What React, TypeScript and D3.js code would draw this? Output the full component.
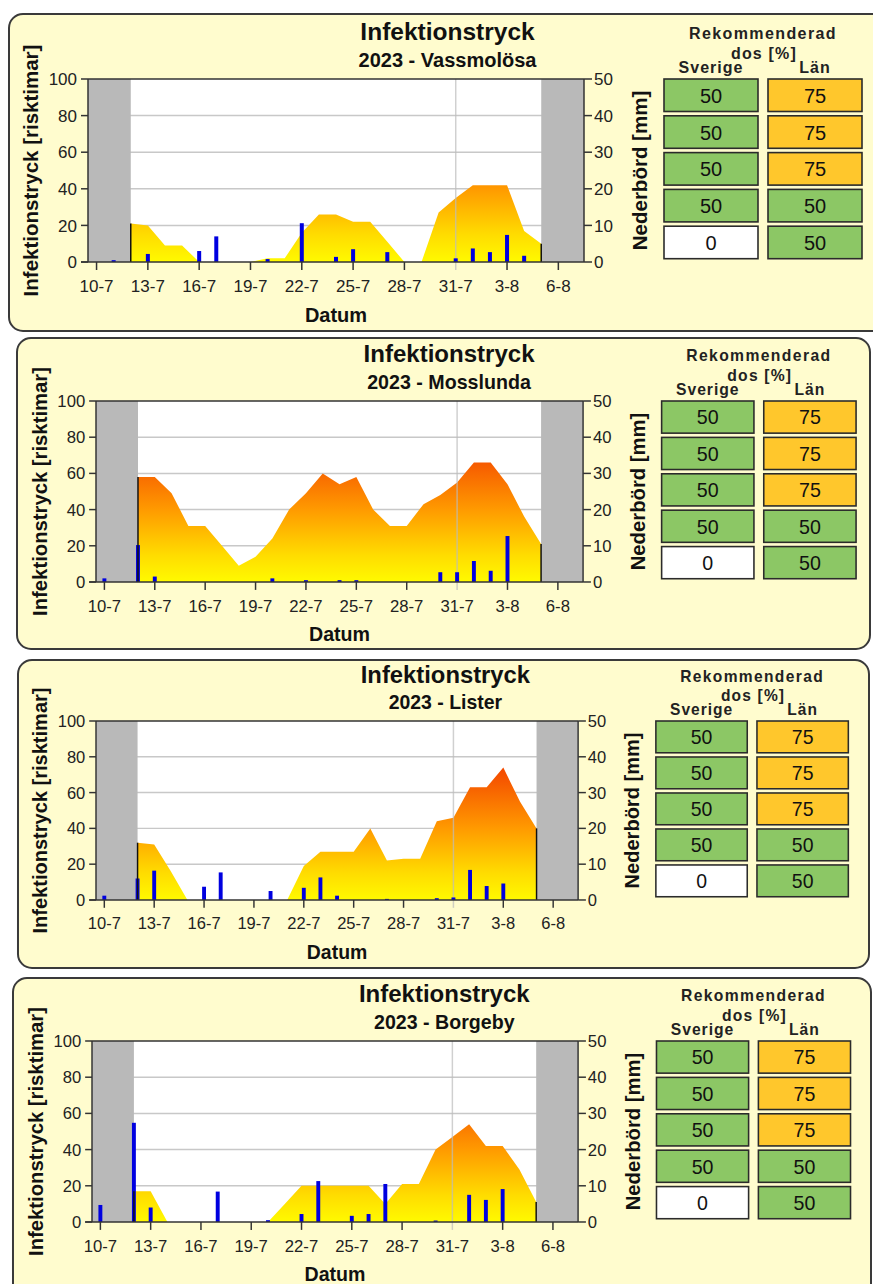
import React from 'react';
import * as d3 from 'd3';

// ---------- data ----------
const days = ['10-7','11-7','12-7','13-7','14-7','15-7','16-7','17-7','18-7','19-7','20-7','21-7','22-7','23-7','24-7','25-7','26-7','27-7','28-7','29-7','30-7','31-7','1-8','2-8','3-8','4-8','5-8','6-8','7-8'];
const tickLabels = ['10-7','13-7','16-7','19-7','22-7','25-7','28-7','31-7','3-8','6-8'];
const riskStartDay = '12-7';
const gridDay = '31-7';
const stations = ['Vassmolösa', 'Mosslunda', 'Lister', 'Borgeby'];
const year = '2023';

// Infektionstryck [risktimar], from 12-7 to 5-8
const vassmolosaRisk = [21,20,9,9,0,0,0,0,2,2,16,26,26,22,22,11,0,0,27,35,42,42,42,17,10];
const mosslundaRisk = [58,58,49,31,31,20,9,14,24,40,49,60,54,58,40,31,31,43,48,55,66,66,54,36,21];
const listerRisk = [32,31,16,0,0,0,0,0,0,0,19,27,27,27,40,22,23,23,44,46,63,63,74,55,40];
const borgebyRisk = [17,17,0,0,0,0,0,0,0,10,20,20,20,20,20,10,21,21,40,47,54,42,42,29,11];

// Nederbörd [mm], per day 10-7 .. 7-8
const vassmolosaRain = [0,0.5,0,2.2,0,0,3,7,0,0,0.8,0,10.6,0,1.4,3.5,0,2.7,0,0,0,1,3.7,2.7,7.4,1.7,0,0,0];
const mosslundaRain = [1,0,10.2,1.5,0,0,0,0,0,0,1,0,0.5,0,0.5,0.5,0,0,0,0,2.7,2.7,5.8,3.1,12.7,0,0,0,0];
const listerRain = [1.2,0,6,8.2,0,0,3.7,7.7,0,0,2.5,0,3.4,6.3,1.2,0,0,0.3,0,0,0.5,0.7,8.4,3.9,4.6,0,0,0,0];
const borgebyRain = [4.7,0,27.4,4,0,0,0,8.4,0,0,0.5,0,2.2,11.3,0,1.7,2.2,10.5,0,0,0.4,0,7.5,6.1,9.1,0,0,0,0];

const risks = [vassmolosaRisk, mosslundaRisk, listerRisk, borgebyRisk];
const rains = [vassmolosaRain, mosslundaRain, listerRain, borgebyRain];

// Rekommenderad dos [%]
const doseSverige = [50, 50, 50, 50, 0];
const doseLan = [75, 75, 75, 50, 50];

// ---------- layout ----------
const W = 496, H = 183;
const layouts = [
  { box: [9, 14, 880, 317], ox: 88, oy: 79, sx: 1, sy: 1 },
  { box: [17, 338, 853, 311], ox: 96, oy: 401, sx: 0.982, sy: 0.989 },
  { box: [18, 660, 851, 308], ox: 96, oy: 721, sx: 0.972, sy: 0.978 },
  { box: [13, 978, 858, 320], ox: 92, oy: 1041, sx: 0.98, sy: 0.989 },
];

const x = d3.scaleLinear().domain([-0.5, days.length - 0.5]).range([0, W]);
const y = d3.scaleLinear().domain([0, 100]).range([H, 0]);
const yR = d3.scaleLinear().domain([0, 50]).range([H, 0]);

const FONT = "'Liberation Sans', Arial, Helvetica, sans-serif";
const AX = '#333';

function doseColor(v: number) {
  if (v >= 75) return '#FFC72C';
  if (v >= 50) return '#8CC765';
  return '#FFFFFF';
}

function Panel({ idx }: { idx: number }) {
  const L = layouts[idx];
  const risk = risks[idx];
  const rain = rains[idx];
  const start = days.indexOf(riskStartDay);
  const pts = risk.map((v, k) => ({ i: start + k, v }));
  const first = pts[0];
  const last = pts[pts.length - 1];
  const area = d3.area<{ i: number; v: number }>()
    .x(d => x(d.i))
    .y0(H)
    .y1(d => y(d.v))
    .curve(d3.curveLinear);
  const gi = days.indexOf(gridDay);
  const yTicks = y.ticks(5);
  const yRTicks = yR.ticks(5);
  const barW = 4;
  const rowPitch = 36.8, rowH = 32.5, colW = 94;
  const colX = [576, 680];
  const [bx, by, bw, bh] = L.box;
  return (
    <g>
      <rect x={bx} y={by} width={bw} height={bh} rx={14} ry={14} fill="#FFFCCE" stroke="#3a3a3a" strokeWidth={2} />
      <g transform={`translate(${L.ox},${L.oy}) scale(${L.sx},${L.sy})`}>
        {/* titles */}
        <text x={359.5} y={-39} textAnchor="middle" fontSize={24.5} fontWeight="bold" fill="#111">Infektionstryck</text>
        <text x={359.5} y={-12} textAnchor="middle" fontSize={20} fontWeight="bold" fill="#111">{`${year} - ${stations[idx]}`}</text>
        {/* plot background */}
        <rect x={0} y={0} width={W} height={H} fill="#FFFFFF" />
        {yTicks.filter(t => t > 0 && t < 100).map(t => (
          <line key={'g' + t} x1={0} x2={W} y1={y(t)} y2={y(t)} stroke="#C8C8C8" strokeWidth={1.5} />
        ))}
        <path d={area(pts) || ''} fill="url(#riskGrad)" />
        <rect x={0} y={0} width={x(first.i)} height={H} fill="#B9B9B9" />
        <rect x={x(last.i)} y={0} width={W - x(last.i)} height={H} fill="#B9B9B9" />
        <line x1={x(gi)} x2={x(gi)} y1={0} y2={H + 8} stroke="#BDBDBD" strokeWidth={1.5} opacity={0.7} />
        {rain.map((r, i) => r > 0 ? (
          <rect key={'b' + i} x={x(i) - barW / 2} y={yR(r)} width={barW} height={H - yR(r)} fill="#0000E0" />
        ) : null)}
        <line x1={x(first.i)} x2={x(first.i)} y1={H} y2={y(first.v)} stroke="#111" strokeWidth={1.5} />
        <line x1={x(last.i)} x2={x(last.i)} y1={H} y2={y(last.v)} stroke="#111" strokeWidth={1.5} />
        {/* axes */}
        <line x1={0} x2={W} y1={0} y2={0} stroke={AX} strokeWidth={1.5} />
        <line x1={-7} x2={W} y1={H} y2={H} stroke={AX} strokeWidth={1.5} />
        <line x1={0} x2={0} y1={0} y2={H} stroke={AX} strokeWidth={1.5} />
        <line x1={W} x2={W} y1={0} y2={H} stroke={AX} strokeWidth={1.5} />
        {yTicks.map(t => (
          <g key={'yl' + t}>
            <line x1={-7} x2={0} y1={y(t)} y2={y(t)} stroke={AX} strokeWidth={1.5} />
            <text x={-11} y={y(t)} dy="0.36em" textAnchor="end" fontSize={17} fill="#222">{t}</text>
          </g>
        ))}
        {yRTicks.map(t => (
          <g key={'yr' + t}>
            <line x1={W} x2={W + 8} y1={yR(t)} y2={yR(t)} stroke={AX} strokeWidth={1.5} />
            <text x={W + 10} y={yR(t)} dy="0.36em" textAnchor="start" fontSize={17} fill="#222">{t}</text>
          </g>
        ))}
        {tickLabels.map(lbl => {
          const i = days.indexOf(lbl);
          return (
            <g key={'xt' + lbl}>
              {lbl !== gridDay && <line x1={x(i)} x2={x(i)} y1={H} y2={H + 8} stroke={AX} strokeWidth={1.5} />}
              <text x={x(i)} y={H + 30} textAnchor="middle" fontSize={17} fill="#222">{lbl}</text>
            </g>
          );
        })}
        <text x={W / 2} y={H + 60} textAnchor="middle" fontSize={20} fontWeight="bold" fill="#111">Datum</text>
        <text transform={`translate(-50,${H / 2}) rotate(-90)`} textAnchor="middle" fontSize={20.5} fontWeight="bold" fill="#111">Infektionstryck [risktimar]</text>
        <text transform={`translate(559,${H / 2}) rotate(-90)`} textAnchor="middle" fontSize={20.5} fontWeight="bold" fill="#111">Nederbörd [mm]</text>
        {/* dose table */}
        <text x={675} y={-40} textAnchor="middle" fontSize={16} fontWeight="bold" letterSpacing={1.4} fill="#222">Rekommenderad</text>
        <text x={676} y={-20} textAnchor="middle" fontSize={16} fontWeight="bold" letterSpacing={1.2} fill="#222">dos [%]</text>
        <text x={colX[0] + colW / 2} y={-6} textAnchor="middle" fontSize={16} fontWeight="bold" letterSpacing={1} fill="#222">Sverige</text>
        <text x={colX[1] + colW / 2} y={-6} textAnchor="middle" fontSize={16} fontWeight="bold" letterSpacing={1} fill="#222">Län</text>
        {[doseSverige, doseLan].map((col, c) => col.map((v, r) => (
          <g key={`d${c}-${r}`}>
            <rect x={colX[c]} y={r * rowPitch} width={colW} height={rowH} fill={doseColor(v)} stroke="#2b2b2b" strokeWidth={1.6} />
            <text x={colX[c] + colW / 2} y={r * rowPitch + rowH / 2 + 7.5} textAnchor="middle" fontSize={20} fill="#111">{v}</text>
          </g>
        )))}
      </g>
    </g>
  );
}

export default function App() {
  return (
    <svg width={873} height={1284} style={{ position: 'absolute', left: 0, top: 0, background: '#fff' }} fontFamily={FONT}>
      <defs>
        <linearGradient id="riskGrad" gradientUnits="userSpaceOnUse" x1={0} y1={y(0)} x2={0} y2={y(100)}>
          <stop offset="0" stopColor="#FFFA00" />
          <stop offset="0.15" stopColor="#FFDC00" />
          <stop offset="0.4" stopColor="#FF9A00" />
          <stop offset="0.7" stopColor="#F55000" />
          <stop offset="1" stopColor="#E82000" />
        </linearGradient>
      </defs>
      <rect x={0} y={0} width={873} height={1284} fill="#fff" />
      {stations.map((s, i) => <Panel key={s} idx={i} />)}
    </svg>
  );
}
